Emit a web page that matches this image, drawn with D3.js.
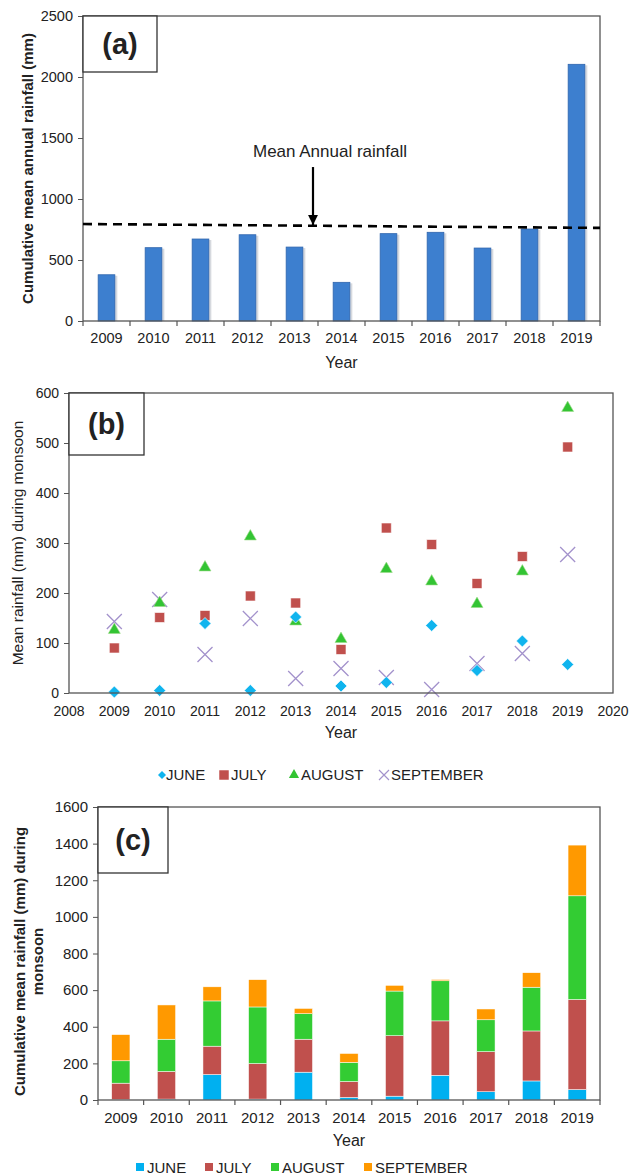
<!DOCTYPE html>
<html>
<head>
<meta charset="utf-8">
<script src="https://cdn.jsdelivr.net/npm/d3@7"></script>
<style>
  body { margin: 0; background: #fff; }
  text { font-family: "Liberation Sans", Arial, sans-serif; fill: #222; }
</style>
</head>
<body>
<div id="chart"></div>
<script>
// ---- data ----
const years = ["2009", "2010", "2011", "2012", "2013", "2014", "2015", "2016", "2017", "2018", "2019"]
const annual = [379, 601, 672, 707, 606, 317, 716, 727, 598, 754, 2104]
const meanLine = [795, 763]   // dashed line, left end / right end
const months = ["JUNE", "JULY", "AUGUST", "SEPTEMBER"]
const june = [2, 5, 139, 5, 152, 14, 21, 135, 45, 104, 57]
const july = [90, 151, 155, 194, 180, 87, 330, 297, 219, 273, 492]
const august = [122, 176, 247, 309, 139, 104, 244, 219, 174, 239, 566]
const september = [143, 187, 77, 149, 29, 49, 31, 7, 59, 79, 277]
const aTicks = [0, 500, 1000, 1500, 2000, 2500]
const bTicks = [0, 100, 200, 300, 400, 500, 600]
const bYears = [2008, 2009, 2010, 2011, 2012, 2013, 2014, 2015, 2016, 2017, 2018, 2019, 2020]
const cTicks = [0, 200, 400, 600, 800, 1000, 1200, 1400, 1600]

const monthColor = { JUNE: "#00b0f0", JULY: "#c0504d", AUGUST: "#33cc33", SEPTEMBER: "#ff9900" }
const markColor = { JUNE: "#10b4ee", JULY: "#c0504d", AUGUST: "#33c433", SEPTEMBER: "#a392cc" }

const svg = d3.select("#chart").append("svg")
    .attr("width", 630).attr("height", 1176)

const axisColor = "#555"

function frame(g, w, h) {
    g.append("rect").attr("width", w).attr("height", h)
        .attr("fill", "none").attr("stroke", axisColor).attr("stroke-width", 1.3)
}

function yAxis(g, y, ticks, size) {
    const ax = g.append("g").call(d3.axisLeft(y).tickValues(ticks).tickFormat(d3.format("d")).tickSize(5).tickPadding(5))
    ax.select(".domain").remove()
    ax.selectAll("line").attr("stroke", axisColor)
    ax.selectAll("text").attr("font-size", size).attr("fill", "#222")
        .attr("font-family", "Liberation Sans, Arial, sans-serif")
}

function labelBox(g, w, h, txt) {
    g.append("rect").attr("width", w).attr("height", h)
        .attr("fill", "#fff").attr("stroke", "#333").attr("stroke-width", 1.3)
    g.append("text").attr("x", w / 2).attr("y", h / 2 + 10)
        .attr("text-anchor", "middle").attr("font-size", 29).attr("font-weight", "bold")
        .text(txt)
}

function bandTicks(g, x, h) {
    // ticks on category boundaries
    const bounds = years.map(d => x(d) - (x.step() - x.bandwidth()) / 2)
    bounds.push(x.range()[1])
    g.selectAll(".bt").data(bounds).enter().append("line")
        .attr("x1", d => d).attr("x2", d => d)
        .attr("y1", h).attr("y2", h + 5)
        .attr("stroke", axisColor).attr("stroke-width", 1.2)
}

// ------------------------------- //
// (a) annual rainfall
// ------------------------------- //
const A = { left: 83, top: 16, w: 517, h: 305 }
const gA = svg.append("g").attr("transform", "translate(" + A.left + "," + A.top + ")")
const xA = d3.scaleBand().domain(years).range([0, A.w]).paddingInner(0.645).paddingOuter(0.3225)
const yA = d3.scaleLinear().domain([0, 2500]).range([A.h, 0])

yAxis(gA, yA, aTicks, 14.5)

gA.selectAll(".shadow").data(years).enter().append("rect")
    .attr("x", (d, i) => xA(d) + 2.5)
    .attr("y", (d, i) => yA(annual[i]) + 1)
    .attr("width", xA.bandwidth())
    .attr("height", (d, i) => A.h - yA(annual[i]) - 1)
    .attr("fill", "#d6d9de")
gA.selectAll(".bar").data(years).enter().append("rect")
    .attr("x", d => xA(d))
    .attr("y", (d, i) => yA(annual[i]))
    .attr("width", xA.bandwidth())
    .attr("height", (d, i) => A.h - yA(annual[i]))
    .attr("fill", "#3d7fcf").attr("stroke", "#2f65ad").attr("stroke-width", 0.8)

frame(gA, A.w, A.h)
bandTicks(gA, xA, A.h)

gA.selectAll(".xl").data(years).enter().append("text")
    .attr("x", d => xA(d) + xA.bandwidth() / 2)
    .attr("y", A.h + 22)
    .attr("text-anchor", "middle").attr("font-size", 14.5)
    .text(d => d)
gA.append("text").attr("x", xA("2014") + xA.bandwidth() / 2).attr("y", A.h + 47)
    .attr("text-anchor", "middle").attr("font-size", 16).text("Year")

// mean line
gA.append("line")
    .attr("x1", 0).attr("x2", A.w)
    .attr("y1", yA(meanLine[0])).attr("y2", yA(meanLine[1]))
    .attr("stroke", "#000").attr("stroke-width", 2.6).attr("stroke-dasharray", "9,6")

// annotation
const arrowX = xA("2014") - (xA.step() - xA.bandwidth()) / 2 - 5
svg.append("defs").append("marker")
    .attr("id", "arrowhead").attr("viewBox", "0 0 10 10")
    .attr("refX", 10).attr("refY", 5)
    .attr("markerWidth", 4.5).attr("markerHeight", 4.5)
    .attr("orient", "auto")
    .append("path").attr("d", "M0,0 L10,5 L0,10 Z").attr("fill", "#000")
gA.append("line")
    .attr("x1", arrowX).attr("x2", arrowX)
    .attr("y1", yA(1262)).attr("y2", yA(meanLine[0] - 8))
    .attr("stroke", "#000").attr("stroke-width", 2.2)
    .attr("marker-end", "url(#arrowhead)")
gA.append("text").attr("x", arrowX + 17).attr("y", yA(1345))
    .attr("text-anchor", "middle").attr("font-size", 17)
    .text("Mean Annual rainfall")

labelBox(gA, 74, 56, "(a)")

svg.append("text")
    .attr("transform", "translate(33," + (A.top + A.h / 2) + ") rotate(-90)")
    .attr("text-anchor", "middle").attr("font-size", 15).attr("font-weight", "bold")
    .text("Cumulative mean annual rainfall (mm)")

// ------------------------------- //
// (b) monthly scatter
// ------------------------------- //
const B = { left: 69, top: 393, w: 544, h: 300 }
const gB = svg.append("g").attr("transform", "translate(" + B.left + "," + B.top + ")")
const xB = d3.scaleLinear().domain([2008, 2020]).range([0, B.w])
const yB = d3.scaleLinear().domain([0, 600]).range([B.h, 0])

yAxis(gB, yB, bTicks, 14)

gB.selectAll(".xl").data(bYears).enter().append("text")
    .attr("x", d => xB(d)).attr("y", B.h + 23)
    .attr("text-anchor", "middle").attr("font-size", 14)
    .text(d => d)
gB.append("text").attr("x", xB(2014)).attr("y", B.h + 45)
    .attr("text-anchor", "middle").attr("font-size", 16).text("Year")

const series = { JUNE: june, JULY: july, AUGUST: august, SEPTEMBER: september }
const symbolOf = {
    JUNE: d3.symbol(d3.symbolSquare, 72),
    JULY: d3.symbol(d3.symbolSquare, 100),
    AUGUST: d3.symbol(d3.symbolTriangle, 62)
}
function crossPath(s) {
    return "M" + (-s) + "," + (-s) + "L" + s + "," + s + "M" + (-s) + "," + s + "L" + s + "," + (-s)
}

function drawMark(g, m, x, y) {
    if (m === "SEPTEMBER") {
        g.append("path").attr("d", crossPath(7.5))
            .attr("transform", "translate(" + x + "," + y + ")")
            .attr("fill", "none").attr("stroke", markColor[m]).attr("stroke-width", 1.3)
    } else {
        g.append("path").attr("d", symbolOf[m]())
            .attr("transform", "translate(" + x + "," + y + ")" + (m === "JUNE" ? " rotate(45)" : ""))
            .attr("fill", markColor[m])
            .attr("stroke", m === "AUGUST" ? "#9ddc8a" : "#fff").attr("stroke-width", 0.6)
    }
}

const drawOrder = ["SEPTEMBER", "AUGUST", "JULY", "JUNE"]
drawOrder.forEach(function (m) {
    series[m].forEach(function (v, i) {
        drawMark(gB, m, xB(+years[i]), yB(v) - (m === "AUGUST" ? 2 : 0))
    })
})

frame(gB, B.w, B.h)
labelBox(gB, 75, 62, "(b)")

svg.append("text")
    .attr("transform", "translate(23," + (B.top + B.h / 2) + ") rotate(-90)")
    .attr("text-anchor", "middle").attr("font-size", 15.5)
    .text("Mean rainfall (mm) during monsoon")

// legend b
const legB = [157, 219, 289, 379]
months.forEach(function (m, i) {
    const lg = svg.append("g")
    if (m === "SEPTEMBER") {
        lg.append("path").attr("d", crossPath(5))
            .attr("transform", "translate(" + (legB[i] + 5) + ",775)")
            .attr("fill", "none").attr("stroke", markColor[m]).attr("stroke-width", 1.2)
    } else {
        const sym = m === "JULY" ? d3.symbol(d3.symbolSquare, 90) : (m === "JUNE" ? d3.symbol(d3.symbolSquare, 32) : d3.symbol(d3.symbolTriangle, 45))
        lg.append("path").attr("d", sym())
            .attr("transform", "translate(" + (legB[i] + 5) + ",775)" + (m === "JUNE" ? " rotate(45)" : ""))
            .attr("fill", markColor[m])
    }
    lg.append("text").attr("x", legB[i] + (m === "JUNE" ? 9 : 12)).attr("y", 780)
        .attr("font-size", 15).text(m)
})

// ------------------------------- //
// (c) stacked bars
// ------------------------------- //
const C = { left: 98, top: 807, w: 502, h: 293 }
const gC = svg.append("g").attr("transform", "translate(" + C.left + "," + C.top + ")")
const xC = d3.scaleBand().domain(years).range([0, C.w]).paddingInner(0.6).paddingOuter(0.3)
const yC = d3.scaleLinear().domain([0, 1600]).range([C.h, 0])

const table = years.map((y, i) => ({ year: y, JUNE: june[i], JULY: july[i], AUGUST: august[i], SEPTEMBER: september[i] }))
const stacked = d3.stack().keys(months)(table)

yAxis(gC, yC, cTicks, 15)

gC.selectAll(".layer").data(stacked).enter().append("g")
    .attr("fill", d => monthColor[d.key])
    .selectAll("rect").data(d => d).enter().append("rect")
    .attr("x", d => xC(d.data.year))
    .attr("y", d => yC(d[1]))
    .attr("width", xC.bandwidth())
    .attr("height", d => yC(d[0]) - yC(d[1]))
    .attr("stroke", "#fff").attr("stroke-width", 0.5)

frame(gC, C.w, C.h)
bandTicks(gC, xC, C.h)

gC.selectAll(".xl").data(years).enter().append("text")
    .attr("x", d => xC(d) + xC.bandwidth() / 2)
    .attr("y", C.h + 23)
    .attr("text-anchor", "middle").attr("font-size", 15)
    .text(d => d)
gC.append("text").attr("x", xC("2014") + xC.bandwidth() / 2).attr("y", C.h + 46)
    .attr("text-anchor", "middle").attr("font-size", 16).text("Year")

labelBox(gC, 70, 66, "(c)")

svg.append("text")
    .attr("transform", "translate(25," + (C.top + C.h / 2 + 8) + ") rotate(-90)")
    .attr("text-anchor", "middle").attr("font-size", 15).attr("font-weight", "bold")
    .text("Cumulative mean rainfall (mm) during")
svg.append("text")
    .attr("transform", "translate(43," + (C.top + C.h / 2 + 8) + ") rotate(-90)")
    .attr("text-anchor", "middle").attr("font-size", 15).attr("font-weight", "bold")
    .text("monsoon")

// legend c
const legC = [136, 205, 271, 364]
months.forEach(function (m, i) {
    svg.append("rect").attr("x", legC[i]).attr("y", 1163).attr("width", 8).attr("height", 8)
        .attr("fill", monthColor[m])
    svg.append("text").attr("x", legC[i] + 11).attr("y", 1173)
        .attr("font-size", 15).text(m)
})
</script>
</body>
</html>
